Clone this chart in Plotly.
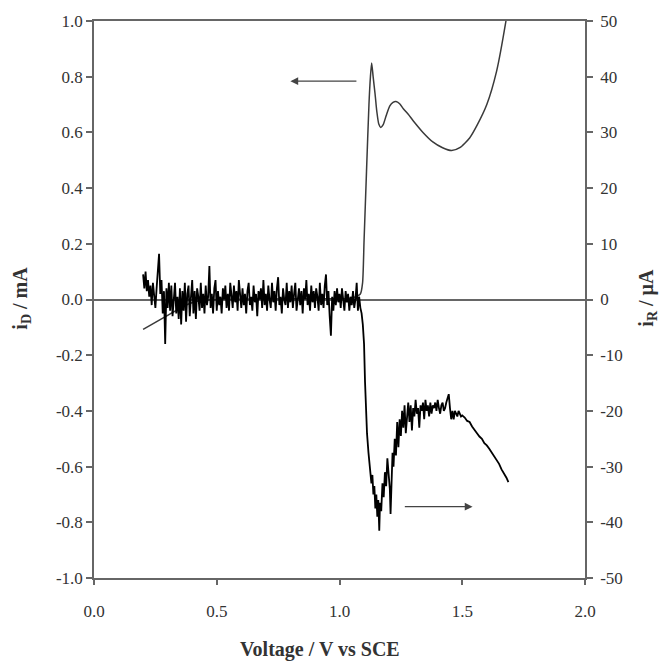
import plotly.graph_objects as go

# ---- data: disk current i_D (mA, left axis) ----
voltage_d = [0.200, 0.250, 0.300, 0.342, 0.380, 0.420, 0.500, 0.700, 0.900, 1.050,
             1.085, 1.094, 1.100, 1.110, 1.120, 1.126, 1.131, 1.137, 1.145, 1.152,
             1.160, 1.168, 1.178, 1.190, 1.205, 1.218, 1.230, 1.245, 1.260, 1.280,
             1.300, 1.340, 1.380, 1.420, 1.457, 1.490, 1.530, 1.560, 1.600, 1.640,
             1.678, 1.690]
current_d = [-0.107, -0.082, -0.057, -0.036, -0.018, -0.006, 0.000, 0.002, 0.003, 0.005,
             0.020, 0.060, 0.210, 0.460, 0.700, 0.800, 0.849, 0.800, 0.737, 0.675,
             0.630, 0.618, 0.628, 0.660, 0.695, 0.708, 0.711, 0.703, 0.685, 0.665,
             0.642, 0.600, 0.566, 0.545, 0.535, 0.545, 0.580, 0.625, 0.700, 0.820,
             1.000, 1.070]

# ---- data: ring current i_R (uA, right axis) ----
voltage_r = [
    0.200, 0.205, 0.210, 0.215, 0.220, 0.225, 0.230, 0.235, 0.240, 0.245,
    0.250, 0.255, 0.260, 0.265, 0.270, 0.275, 0.280, 0.285, 0.290, 0.295,
    0.300, 0.305, 0.310, 0.315, 0.320, 0.325, 0.330, 0.335, 0.340, 0.345,
    0.350, 0.355, 0.360, 0.365, 0.370, 0.375, 0.380, 0.385, 0.390, 0.395,
    0.400, 0.405, 0.410, 0.415, 0.420, 0.425, 0.430, 0.435, 0.440, 0.445,
    0.450, 0.455, 0.460, 0.465, 0.470, 0.475, 0.480, 0.485, 0.490, 0.495,
    0.500, 0.505, 0.510, 0.515, 0.520, 0.525, 0.530, 0.535, 0.540, 0.545,
    0.550, 0.555, 0.560, 0.565, 0.570, 0.575, 0.580, 0.585, 0.590, 0.595,
    0.600, 0.605, 0.610, 0.615, 0.620, 0.625, 0.630, 0.635, 0.640, 0.645,
    0.650, 0.655, 0.660, 0.665, 0.670, 0.675, 0.680, 0.685, 0.690, 0.695,
    0.700, 0.705, 0.710, 0.715, 0.720, 0.725, 0.730, 0.735, 0.740, 0.745,
    0.750, 0.755, 0.760, 0.765, 0.770, 0.775, 0.780, 0.785, 0.790, 0.795,
    0.800, 0.805, 0.810, 0.815, 0.820, 0.825, 0.830, 0.835, 0.840, 0.845,
    0.850, 0.855, 0.860, 0.865, 0.870, 0.875, 0.880, 0.885, 0.890, 0.895,
    0.900, 0.905, 0.910, 0.915, 0.920, 0.925, 0.930, 0.935, 0.940, 0.945,
    0.950, 0.955, 0.960, 0.965, 0.970, 0.975, 0.980, 0.985, 0.990, 0.995,
    1.000, 1.005, 1.010, 1.015, 1.020, 1.025, 1.030, 1.035, 1.040, 1.045,
    1.050, 1.055, 1.060, 1.065, 1.070, 1.075, 1.080, 1.085, 1.090, 1.095,
    1.100, 1.104, 1.108, 1.112, 1.118, 1.124, 1.130, 1.134, 1.138, 1.142,
    1.146, 1.150, 1.154, 1.158, 1.162, 1.165, 1.170, 1.175, 1.180, 1.185,
    1.190, 1.195, 1.200, 1.205, 1.208, 1.212, 1.216, 1.220, 1.225, 1.230,
    1.235, 1.240, 1.245, 1.250, 1.255, 1.260, 1.265, 1.270, 1.275, 1.280,
    1.285, 1.290, 1.295, 1.300, 1.305, 1.310, 1.315, 1.320, 1.325, 1.330,
    1.335, 1.340, 1.345, 1.350, 1.355, 1.360, 1.365, 1.370, 1.375, 1.380,
    1.385, 1.390, 1.395, 1.400, 1.405, 1.410, 1.415, 1.420, 1.425, 1.430,
    1.435, 1.440, 1.445, 1.450, 1.455, 1.460, 1.465, 1.470, 1.475, 1.480,
    1.485, 1.490, 1.495, 1.500, 1.510, 1.520, 1.530, 1.540, 1.550, 1.560,
    1.570, 1.580, 1.590, 1.600, 1.610, 1.620, 1.630, 1.640, 1.650, 1.660,
    1.670, 1.680, 1.688]
current_r = [
    4.5, 2.0, 5.0, 1.5, 3.5, 0.5, 2.5, -1.0, 3.0, 1.0,
    -1.5, 2.0, 5.5, 8.2, 1.0, 3.5, -2.5, 1.5, -8.0, 2.0,
    -1.5, 3.0, -2.0, 2.5, -3.0, 1.0, 3.0, -2.5, 0.5, -3.5,
    2.0, -4.5, 1.5, -2.0, 3.0, -4.0, 1.0, 2.5, -3.0, 0.5,
    3.5, -2.5, 1.5, -3.5, 2.0, 0.5, -2.0, 3.0, -1.5, 1.0,
    -2.5, 2.5, -1.0, 0.5, 6.0, -1.5, 1.0, -2.5, 2.0, 3.5,
    -2.0, 1.5, -1.0, 0.5, -2.5, 2.0, 0.0, 2.5, -1.5, 1.0,
    -2.0, 3.0, 0.5, -1.5, 2.5, -0.5, 1.5, -2.0, 3.5, 0.0,
    -1.5, 2.0, -1.0, 1.0, -2.5, 1.5, 3.0, -1.0, 0.5, -2.0,
    2.5, -0.5, 1.0, -3.0, 1.5, 0.0, 2.0, -1.5, 3.5, -1.0,
    1.0, -2.0, 2.5, 0.0, -1.5, 3.0, -0.5, 1.5, -2.0, 2.0,
    4.0, -1.0, 0.5, -2.5, 2.0, 0.0, -1.0, 3.0, -1.5, 1.5,
    -0.5, 2.5, -1.5, 1.0, 3.0, -2.0, 0.5, 2.0, -1.0, 1.5,
    -2.5, 2.0, 0.0, 3.5, -1.0, 1.0, -2.0, 2.5, -0.5, 1.5,
    -1.5, 2.0, 0.5, -2.0, 3.0, -1.0, 1.0, -1.5, 2.5, 4.5,
    -1.0, 1.5, -3.0, -6.5, 0.5, -2.0, 1.5, -1.0, 2.0, -0.5,
    1.0, -1.5, 2.0, 0.0, -2.0, 1.5, -0.5, 1.0, -2.0, 0.5,
    -1.0, 1.5, -1.5, 0.0, 3.0, -2.0, 0.5, -1.5, -2.5, -4.5,
    -8.0, -14.8, -20.0, -24.0, -27.5, -30.2, -33.0, -31.5, -35.0, -33.5,
    -37.5, -35.0, -39.0, -36.0, -41.5, -36.5, -38.0, -33.0, -35.5, -31.0,
    -33.5, -28.5, -32.0, -34.0, -38.5, -30.0, -27.5, -30.0, -25.0, -28.0,
    -22.0, -26.5, -21.5, -24.5, -20.0, -23.0, -19.0, -24.0, -20.5, -18.5,
    -22.0, -19.0, -23.5, -19.5, -21.0, -18.0, -20.5, -19.5, -23.0, -19.0,
    -20.0, -18.5, -21.5, -18.0, -20.0, -19.0, -21.0, -18.5, -20.5, -19.0,
    -19.5, -18.5, -20.0, -18.0, -19.5, -20.5, -19.0, -18.5, -20.0, -19.5,
    -18.5, -17.5, -17.0, -19.5, -21.5, -20.0, -21.5, -20.0, -20.5, -21.0,
    -20.0, -20.5, -21.0, -20.8, -21.2, -21.8, -22.0, -22.8, -23.5, -24.0,
    -24.6, -25.0, -25.8, -26.2, -26.8, -27.5, -28.2, -29.0, -29.5, -30.5,
    -31.2, -32.0, -32.8]

x_ticks = [0.0, 0.5, 1.0, 1.5, 2.0]
y_ticks_left = [-1.0, -0.8, -0.6, -0.4, -0.2, 0.0, 0.2, 0.4, 0.6, 0.8, 1.0]
y_ticks_right = [-50, -40, -30, -20, -10, 0, 10, 20, 30, 40, 50]

FONT = "Liberation Serif"
AX = "#666666"
TXT = "#333333"

fig = go.Figure()
fig.add_trace(go.Scatter(x=voltage_d, y=current_d, mode="lines",
                         line=dict(color="#3a3a3a", width=1.5, shape="spline", smoothing=0.6),
                         yaxis="y", showlegend=False))
fig.add_trace(go.Scatter(x=voltage_r, y=current_r, mode="lines",
                         line=dict(color="#000000", width=1.8), yaxis="y2",
                         showlegend=False))

fig.update_layout(
    width=665, height=662,
    margin=dict(l=94, r=80, t=16, b=84),
    paper_bgcolor="white", plot_bgcolor="white",
    font=dict(family=FONT, size=17, color=TXT),
    xaxis=dict(range=[0, 2], tickvals=x_ticks, ticktext=[f"{v:.1f}" for v in x_ticks],
               showline=True, linecolor=AX, linewidth=1.5, mirror=True,
               ticks="outside", ticklen=5, tickcolor=AX, tickwidth=1.5,
               showgrid=False, zeroline=False, ticklabelstandoff=12),
    yaxis=dict(range=[-1, 1], tickvals=y_ticks_left,
               ticktext=[f"{v:.1f}" for v in y_ticks_left],
               showline=True, linecolor=AX, linewidth=1.5,
               ticks="outside", ticklen=6, tickcolor=AX, tickwidth=1.5,
               showgrid=False, zeroline=True, zerolinecolor=AX, zerolinewidth=1.5),
    yaxis2=dict(range=[-50, 50], tickvals=y_ticks_right,
                ticktext=[str(v) for v in y_ticks_right],
                overlaying="y", side="right",
                showline=True, linecolor=AX, linewidth=1.5,
                ticks="outside", ticklen=6, tickcolor=AX, tickwidth=1.5,
                showgrid=False, zeroline=False, ticklabelstandoff=4),
    annotations=[
        dict(text="<b>Voltage / V vs SCE</b>", xref="paper", yref="paper",
             x=0.46, y=-0.128, showarrow=False, xanchor="center", yanchor="middle",
             font=dict(family=FONT, size=20, color=TXT)),
        dict(text="<b>i<sub>D</sub> / mA</b>", xref="paper", yref="paper",
             x=-0.147, y=0.503, showarrow=False, textangle=-90,
             xanchor="center", yanchor="middle",
             font=dict(family=FONT, size=20, color=TXT)),
        dict(text="<b>i<sub>R</sub> / µA</b>", xref="paper", yref="paper",
             x=1.128, y=0.503, showarrow=False, textangle=-90,
             xanchor="center", yanchor="middle",
             font=dict(family=FONT, size=20, color=TXT)),
        dict(x=0.80, y=0.784, xref="x", yref="y", ax=1.075, ay=0.784,
             axref="x", ayref="y", text="", showarrow=True, arrowhead=2,
             arrowsize=1.2, arrowwidth=1.3, arrowcolor="#444444"),
        dict(x=1.542, y=-37.2, xref="x", yref="y2", ax=1.26, ay=-37.2,
             axref="x", ayref="y2", text="", showarrow=True, arrowhead=2,
             arrowsize=1.2, arrowwidth=1.3, arrowcolor="#444444"),
    ],
)

fig.write_html("out.html",
               config={"displayModeBar": False},
               post_script="document.body.style.margin='0';document.body.style.padding='0';")
